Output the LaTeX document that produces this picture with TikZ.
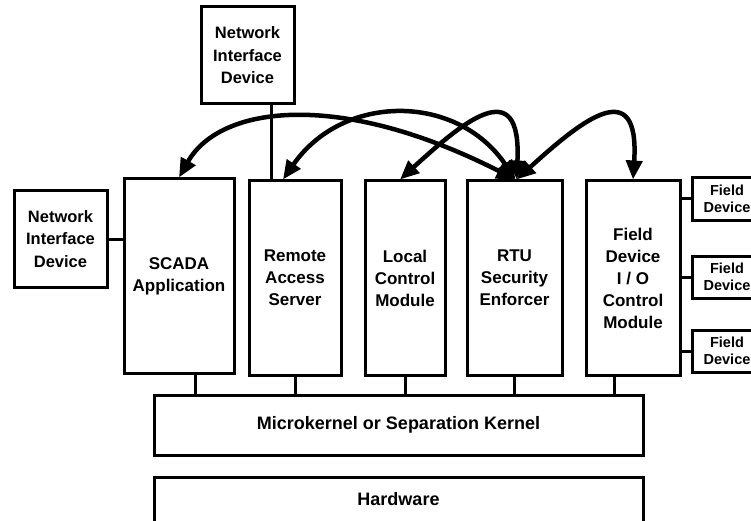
\documentclass[tikz,border=0pt]{standalone}
\usepackage{fontspec}
\setmainfont{Liberation Sans}
\usetikzlibrary{arrows.meta}
\begin{document}
\begin{tikzpicture}[x=1pt,y=-1pt,
  box/.style={draw, line width=3pt, rectangle, align=center, inner sep=0pt,
    font=\bfseries\fontsize{17}{22}\selectfont},
  nidbox/.style={box, minimum width=93pt, minimum height=97pt,
    font=\bfseries\fontsize{16.5}{22.5}\selectfont},
  fieldbox/.style={box, minimum width=70pt, minimum height=42pt,
    font=\bfseries\fontsize{14.5}{16.5}\selectfont},
  layer/.style={box, minimum width=489pt, font=\bfseries\fontsize{18}{22}\selectfont},
  conn/.style={line width=3pt},
  link/.style={line width=4.5pt,
    {Triangle[length=19pt,width=16pt]}-{Triangle[length=19pt,width=16pt]}}]
\useasboundingbox (0,0) rectangle (751,521);
\clip (0,0) rectangle (751,521);

% nodes
\node[nidbox] (topnid) at (247.5,55.5) {Network\\Interface\\Device};
\node[nidbox] (leftnid) at (60.5,239) {Network\\Interface\\Device};
\node[box, minimum width=110pt, minimum height=194pt] (scada) at (179,276) {SCADA\\Application};
\node[box, minimum width=92pt, minimum height=194pt] (remote) at (295,278) {Remote\\Access\\Server};
\node[box, minimum width=80pt, minimum height=194pt] (local) at (405,278) {Local\\Control\\Module};
\node[box, minimum width=95pt, minimum height=194pt] (rtu) at (514.5,278) {RTU\\Security\\Enforcer};
\node[box, minimum width=94pt, minimum height=194pt] (fdio) at (633,278) {Field\\Device\\I / O\\Control\\Module};
\node[fieldbox] (f1) at (727,199) {Field\\Device};
\node[fieldbox] (f2) at (727,277) {Field\\Device};
\node[fieldbox] (f3) at (727,351) {Field\\Device};
\node[layer, minimum height=60pt] (kernel) at (398.5,425) {Microkernel or Separation Kernel};
\node[layer, minimum height=45pt] (hw) at (398.5,499.5) {Hardware};

% plain connectors
\draw[conn] ([xshift=23.5pt]topnid.south) -- ([xshift=23.5pt]topnid.south |- remote.north);
\draw[conn] (leftnid.east) -- (leftnid.east -| scada.west);
\draw[conn] (fdio.east |- f1.west) -- (f1.west);
\draw[conn] (fdio.east |- f2.west) -- (f2.west);
\draw[conn] (fdio.east |- f3.west) -- (f3.west);
\draw[conn] ([xshift=16pt]scada.south) -- ([xshift=16pt]scada.south |- kernel.north);
\draw[conn] (remote.south) -- (remote.south |- kernel.north);
\draw[conn] (local.south) -- (local.south |- kernel.north);
\draw[conn] (rtu.south) -- (rtu.south |- kernel.north);
\draw[conn] ([xshift=-19pt]fdio.south) -- ([xshift=-19pt]fdio.south |- kernel.north);

% curved double-headed links
\draw[link] (scada.north) .. controls (220,105) and (340,90) .. ([xshift=1pt]rtu.north);
\draw[link] ([xshift=-12pt]remote.north) .. controls (343,93) and (457,93) .. ([xshift=1pt]rtu.north);
\draw[link] ([xshift=-5pt]local.north) .. controls (460,125) and (522,70) .. ([xshift=2pt]rtu.north);
\draw[link] ([xshift=2pt]rtu.north) .. controls (580,122) and (640,72) .. (fdio.north);
\end{tikzpicture}
\end{document}
